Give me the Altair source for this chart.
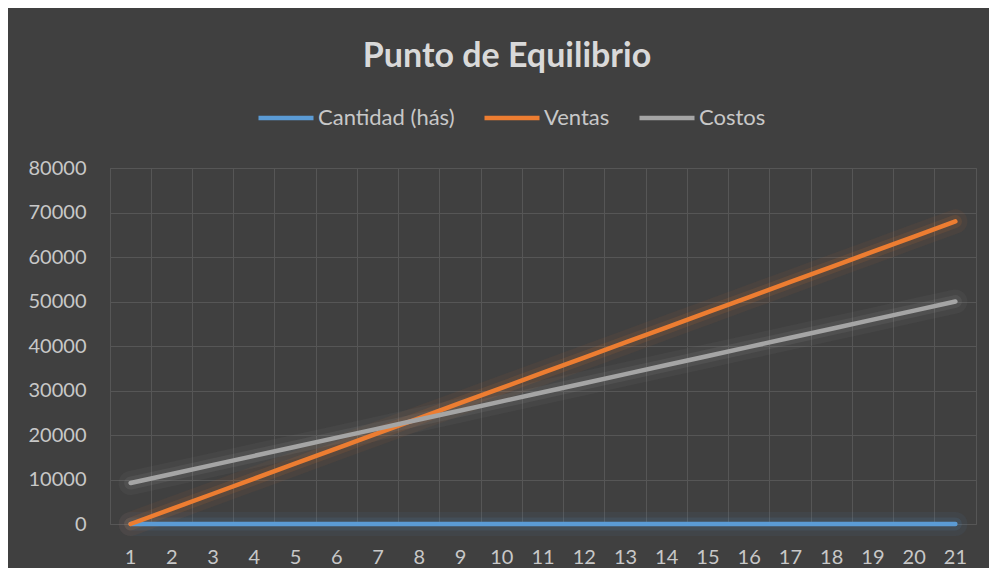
import altair as alt
import pandas as pd

categories = list(range(1, 22))
cantidad = [0, 1, 2, 3, 4, 5, 6, 7, 8, 9, 10, 11, 12, 13, 14, 15, 16, 17, 18, 19, 20]
ventas = [0, 3400, 6800, 10200, 13600, 17000, 20400, 23800, 27200, 30600, 34000,
          37400, 40800, 44200, 47600, 51000, 54400, 57800, 61200, 64600, 68000]
costos = [9200, 11240, 13280, 15320, 17360, 19400, 21440, 23480, 25520, 27560, 29600,
          31640, 33680, 35720, 37760, 39800, 41840, 43880, 45920, 47960, 50000]
series_names = ["Cantidad (hás)", "Ventas", "Costos"]
series_colors = ["#5B9BD5", "#ED7D31", "#A5A5A5"]
y_ticks = [0, 10000, 20000, 30000, 40000, 50000, 60000, 70000, 80000]

rows = []
for name, vals in zip(series_names, [cantidad, ventas, costos]):
    for c, v in zip(categories, vals):
        rows.append({"x": c, "valor": v, "serie": name})
df = pd.DataFrame(rows)

TXT = "#C8C8C8"
GRID = "#565656"

x_enc = alt.X(
    "x:O",
    sort=categories,
    scale=alt.Scale(type="band", paddingInner=0, paddingOuter=0),
    axis=alt.Axis(title=None, labelAngle=0, bandPosition=0, grid=True, gridColor=GRID,
                  ticks=False, domain=False, labelFontSize=20, labelFont="Lato",
                  labelColor=TXT, labelPadding=23),
)
y_enc = alt.Y(
    "valor:Q",
    scale=alt.Scale(domain=[0, 80000], nice=False),
    axis=alt.Axis(title=None, values=y_ticks, format="d", labelFontSize=20, labelFont="Lato",
                  labelColor=TXT, labelPadding=24, ticks=False, domain=False, gridColor=GRID),
)
color_scale = alt.Scale(domain=series_names, range=series_colors)
legend = alt.Legend(title=None, orient="none", direction="horizontal", legendX=146, legendY=-80,
                    symbolType="stroke", symbolSize=3025, symbolStrokeWidth=4.5, symbolOpacity=1,
                    labelFontSize=22, labelFont="Lato", labelColor=TXT, labelOffset=2,
                    columnPadding=20, padding=0)
color_enc = alt.Color("serie:N", scale=color_scale, legend=legend)

layers = []
for name in series_names:
    base = alt.Chart(df).transform_filter(alt.datum.serie == name)
    glow1 = base.mark_line(strokeWidth=24, opacity=0.06, strokeCap="round").encode(
        x=x_enc, y=y_enc, color=color_enc)
    glow2 = base.mark_line(strokeWidth=13, opacity=0.11, strokeCap="round").encode(
        x=x_enc, y=y_enc, color=color_enc)
    layers += [glow1, glow2]
for name in series_names:
    base = alt.Chart(df).transform_filter(alt.datum.serie == name)
    main = base.mark_line(strokeWidth=4.5, strokeCap="round").encode(
        x=x_enc, y=y_enc, color=color_enc)
    layers.append(main)

chart = alt.layer(*layers).properties(
    width=866,
    height=356,
    title=alt.Title("Punto de Equilibrio", fontSize=34, font="Lato", fontWeight="bold",
                    color="#D9D9D9", anchor="middle", dx=-36, dy=-10),
    autosize=alt.AutoSizeParams(type="none"),
    padding={"left": 102, "top": 160, "right": 13, "bottom": 44},
    background="#404040",
).configure_view(stroke=GRID, strokeWidth=1)

chart.save("out.html", embed_options={"renderer": "svg", "actions": False})
